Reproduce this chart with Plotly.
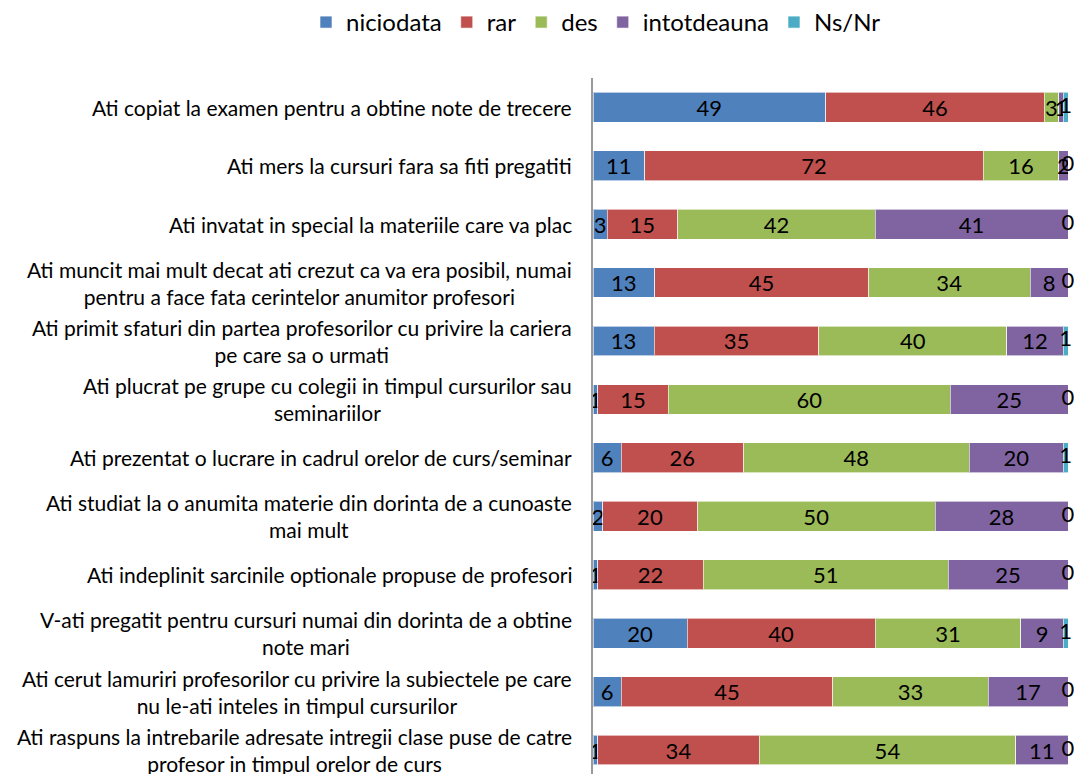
import plotly.graph_objects as go

# survey items (top to bottom)
items = [
    "Ati copiat la examen pentru a obtine note de trecere",
    "Ati mers la cursuri fara sa fiti pregatiti",
    "Ati invatat in special la materiile care va plac",
    "Ati muncit mai mult decat ati crezut ca va era posibil, numai<br>pentru a face fata cerintelor anumitor profesori",
    "Ati primit sfaturi din partea profesorilor cu privire la cariera<br>pe care sa o urmati",
    "Ati plucrat pe grupe cu colegii in timpul cursurilor sau<br>seminariilor",
    "Ati prezentat o lucrare in cadrul orelor de curs/seminar",
    "Ati studiat la o anumita materie din dorinta de a cunoaste<br>mai mult",
    "Ati indeplinit sarcinile optionale propuse de profesori",
    "V-ati pregatit pentru cursuri numai din dorinta de a obtine<br>note mari",
    "Ati cerut lamuriri profesorilor cu privire la subiectele pe care<br>nu le-ati inteles in timpul cursurilor",
    "Ati raspuns la intrebarile adresate intregii clase puse de catre<br>profesor in timpul orelor de curs",
]

niciodata   = [49, 11, 3, 13, 13, 1, 6, 2, 1, 20, 6, 1]
rar         = [46, 72, 15, 45, 35, 15, 26, 20, 22, 40, 45, 34]
des         = [3, 16, 42, 34, 40, 60, 48, 50, 51, 31, 33, 54]
intotdeauna = [1, 2, 41, 8, 12, 25, 20, 28, 25, 9, 17, 11]
ns_nr       = [1, 0, 0, 0, 1, 0, 1, 0, 0, 1, 0, 0]

series = [
    ("niciodata", niciodata, "#4F81BD"),
    ("rar", rar, "#C0504D"),
    ("des", des, "#9BBB59"),
    ("intotdeauna", intotdeauna, "#8064A2"),
    ("Ns/Nr", ns_nr, "#4BACC6"),
]

FONT = "Lato"
W, H = 1074, 774

fig = go.Figure()
for name, vals, col in series:
    last = name == "Ns/Nr"
    fig.add_trace(go.Bar(
        y=items, x=vals, name=name, orientation="h",
        marker=dict(color=col, line=dict(color="rgba(255,255,255,0.6)", width=1)),
        text=vals, texttemplate="%{text}",
        textposition="none" if last else "inside",
        insidetextanchor="middle", textangle=0,
        textfont=dict(color="black", size=22, family=FONT),
        hoverinfo="x+y+name",
    ))

# Ns/Nr labels sit at the centre of their (often zero-width) segment, as in Excel
totals = [sum(r) for r in zip(niciodata, rar, des, intotdeauna, ns_nr)]
before = [sum(r) for r in zip(niciodata, rar, des, intotdeauna)]
ns_mid = [100 * (b + v / 2) / t for b, v, t in zip(before, ns_nr, totals)]
fig.add_trace(go.Scatter(
    x=ns_mid, y=items, mode="text", text=ns_nr,
    textposition="middle center",
    textfont=dict(color="black", size=22, family=FONT),
    showlegend=False, cliponaxis=False, hoverinfo="skip",
))

# category labels as centered multi-line text, like the original
for it in items:
    fig.add_annotation(
        xref="x domain", x=0, xanchor="right", xshift=-19,
        yref="y", y=it, text=it, showarrow=False, align="center",
        font=dict(family=FONT, size=21, color="black"),
    )

fig.update_layout(
    width=W, height=H,
    barmode="stack", barnorm="percent", bargap=0.49,
    margin=dict(l=0, r=0, t=78, b=0),
    plot_bgcolor="white", paper_bgcolor="white",
    font=dict(family=FONT, color="black"),
    uniformtext=dict(minsize=22, mode="show"),
    legend=dict(
        orientation="h", xref="container", x=596 / W, xanchor="center",
        yref="container", y=1.0, yanchor="top",
        font=dict(size=24, family=FONT), traceorder="normal",
        itemwidth=30,
    ),
    xaxis=dict(domain=[593 / W, 1068 / W], range=[0, 100],
               visible=False, showgrid=False),
    yaxis=dict(
        categoryorder="array", categoryarray=items,
        range=[11.41, -0.5], showticklabels=False,
        showline=True, linecolor="#9a9a9a", linewidth=2, ticks="",
        showgrid=False, zeroline=False,
    ),
)

# drop the default 8px body margin so the figure fills the window exactly
fig.write_html("out.html", config={"displayModeBar": False},
               post_script="document.body.style.margin='0px';")
